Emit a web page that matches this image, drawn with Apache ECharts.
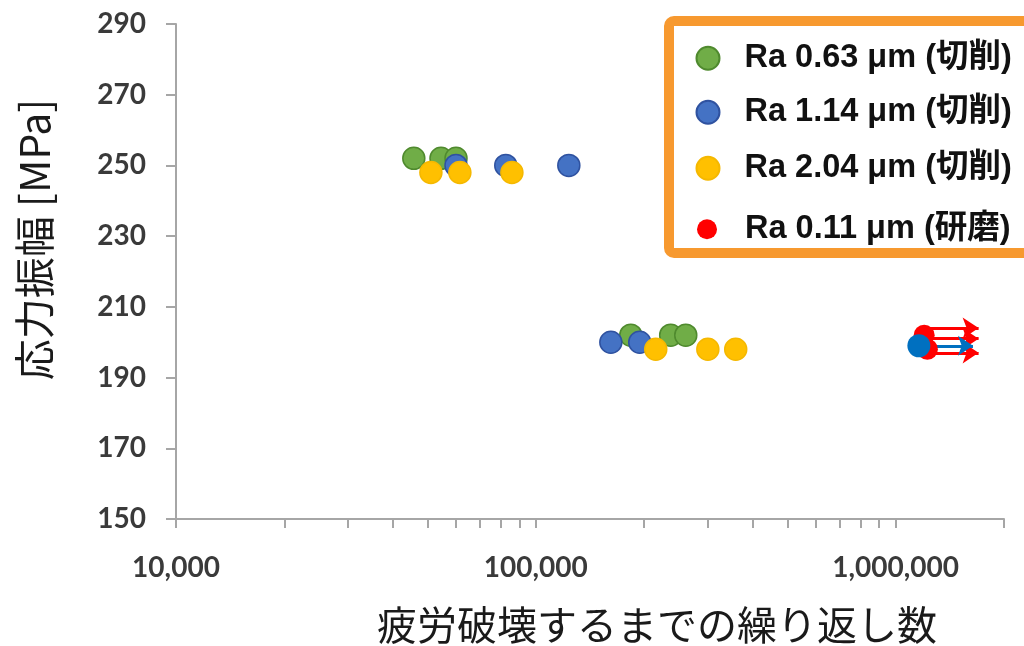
<!DOCTYPE html>
<html>
<head>
<meta charset="utf-8">
<script src="https://cdn.jsdelivr.net/npm/echarts@6/dist/echarts.min.js"></script>
<style>
  html, body { margin: 0; padding: 0; background: #fff; }
  #main { width: 1024px; height: 646px; }
</style>
</head>
<body>
<div id="main"></div>
<script>
// 切削 Ra 0.63 um
var ra063 = [[45800, 252], [54500, 252], [60000, 252], [183600, 202], [237000, 202], [261000, 202]];
// 切削 Ra 1.14 um
var ra114 = [[60000, 250], [82500, 250], [123500, 250], [161600, 200], [194400, 200]];
// 切削 Ra 2.04 um
var ra204 = [[51100, 248], [61500, 248], [85800, 248], [215400, 198], [300600, 198], [359300, 198]];
// 研磨 Ra 0.11 um (runout)
var ra011 = [[1200000, 202], [1225000, 198]];
var runoutBlue = [[1160000, 199]];
// runout arrows: [start, end]
var redArrows = [
	[[1230000, 204], [1700000, 204]],
	[[1250000, 201], [1700000, 201]],
	[[1260000, 197], [1700000, 197]]
];
var blueArrows = [
	[[1160000, 199], [1640000, 199]]
];
var xTicks = [10000, 20000, 30000, 40000, 50000, 60000, 70000, 80000, 90000,
	100000, 200000, 300000, 400000, 500000, 600000, 700000, 800000, 900000,
	1000000, 2000000];
var xLabels = [10000, 100000, 1000000];

var legendNames = ['Ra 0.63 μm (切削)', 'Ra 1.14 μm (切削)', 'Ra 2.04 μm (切削)', 'Ra 0.11 μm (研磨)'];
var legendRows = [56, 110, 166, 227];

var myChart = echarts.init(document.getElementById('main'));

var legends = [];
for (var i = 0; i < legendNames.length; i++) {
	var sz = i === 3 ? 20 : 23;
	legends.push({
		data: [legendNames[i]],
		left: 707 - sz / 2,
		top: legendRows[i] - 14,
		padding: 0,
		itemWidth: sz,
		itemHeight: sz,
		selectedMode: false,
		formatter: '{t|{name}}',
		textStyle: {
			rich: {
				t: {
					fontFamily: 'Liberation Sans, Noto Sans CJK JP',
					fontWeight: 'bold',
					fontSize: 32.5,
					lineHeight: 36,
					color: '#111',
					padding: [0, 0, 0, 43 - sz]
				}
			}
		}
	});
}

var tickFont = {
	fontFamily: 'Lato',
	fontWeight: 'bold',
	fontSize: 28,
	color: '#3a3a3a'
};

var option = {
	animation: false,
	backgroundColor: '#fff',
	graphic: [{
		type: 'rect',
		shape: { x: 669, y: 21, width: 420, height: 232, r: 5 },
		style: { fill: '#fff', stroke: '#F7992F', lineWidth: 10 },
		z: 0
	}],
	legend: legends,
	grid: { left: 176, right: 20, top: 24, bottom: 127, outerBoundsMode: 'none' },
	xAxis: {
		type: 'log',
		logBase: 10,
		min: 10000,
		max: 2000000,
		name: '疲労破壊するまでの繰り返し数',
		nameLocation: 'middle',
		nameGap: 86,
		nameTextStyle: {
			fontFamily: 'Noto Sans CJK JP',
			fontSize: 40,
			color: '#1a1a1a',
			padding: [0, 0, 0, 134]
		},
		axisLine: { lineStyle: { color: '#A6A6A6', width: 2 } },
		axisTick: { show: true, length: 9, customValues: xTicks, lineStyle: { color: '#A6A6A6', width: 2 } },
		axisLabel: Object.assign({
			margin: 35,
			customValues: xLabels,
			formatter: function (v) { return Math.round(v).toLocaleString('en-US'); }
		}, tickFont),
		splitLine: { show: false }
	},
	yAxis: {
		type: 'value',
		min: 150,
		max: 290,
		interval: 20,
		name: '応力振幅 [MPa]',
		nameLocation: 'middle',
		nameGap: 121,
		nameTextStyle: {
			fontFamily: 'Noto Sans CJK JP',
			fontSize: 41,
			color: '#1a1a1a',
			padding: [0, 0, 0, 64]
		},
		axisLine: { show: true, lineStyle: { color: '#A6A6A6', width: 2 } },
		axisTick: { show: true, length: 10, lineStyle: { color: '#A6A6A6', width: 2 } },
		axisLabel: Object.assign({ margin: 30 }, tickFont),
		splitLine: { show: false }
	},
	series: [{
		name: legendNames[0],
		type: 'scatter',
		symbolSize: 22,
		data: ra063,
		itemStyle: { color: '#70AD47', borderColor: '#4F8A2E', borderWidth: 1.5, opacity: 1 }
	}, {
		name: legendNames[1],
		type: 'scatter',
		symbolSize: 22,
		data: ra114,
		itemStyle: { color: '#4472C4', borderColor: '#2F52A0', borderWidth: 1.5, opacity: 1 }
	}, {
		name: legendNames[2],
		type: 'scatter',
		symbolSize: 22,
		data: ra204,
		itemStyle: { color: '#FFC000', borderColor: '#F5B800', borderWidth: 1.5, opacity: 1 }
	}, {
		name: legendNames[3],
		type: 'scatter',
		symbolSize: 21,
		data: ra011,
		itemStyle: { color: '#FF0000', opacity: 1 }
	}, {
		name: 'redArrow',
		type: 'lines',
		coordinateSystem: 'cartesian2d',
		symbol: ['none', 'arrow'],
		symbolSize: 16,
		data: redArrows.map(function (a) { return { coords: a }; }),
		lineStyle: { color: '#FF0000', width: 3, opacity: 1 }
	}, {
		name: 'runout',
		type: 'scatter',
		symbolSize: 23,
		data: runoutBlue,
		itemStyle: { color: '#0070C0', opacity: 1 }
	}, {
		name: 'blueArrow',
		type: 'lines',
		coordinateSystem: 'cartesian2d',
		symbol: ['none', 'arrow'],
		symbolSize: 15,
		data: blueArrows.map(function (a) { return { coords: a }; }),
		lineStyle: { color: '#0070C0', width: 3, opacity: 1 }
	}]
};

myChart.setOption(option);
</script>
</body>
</html>
